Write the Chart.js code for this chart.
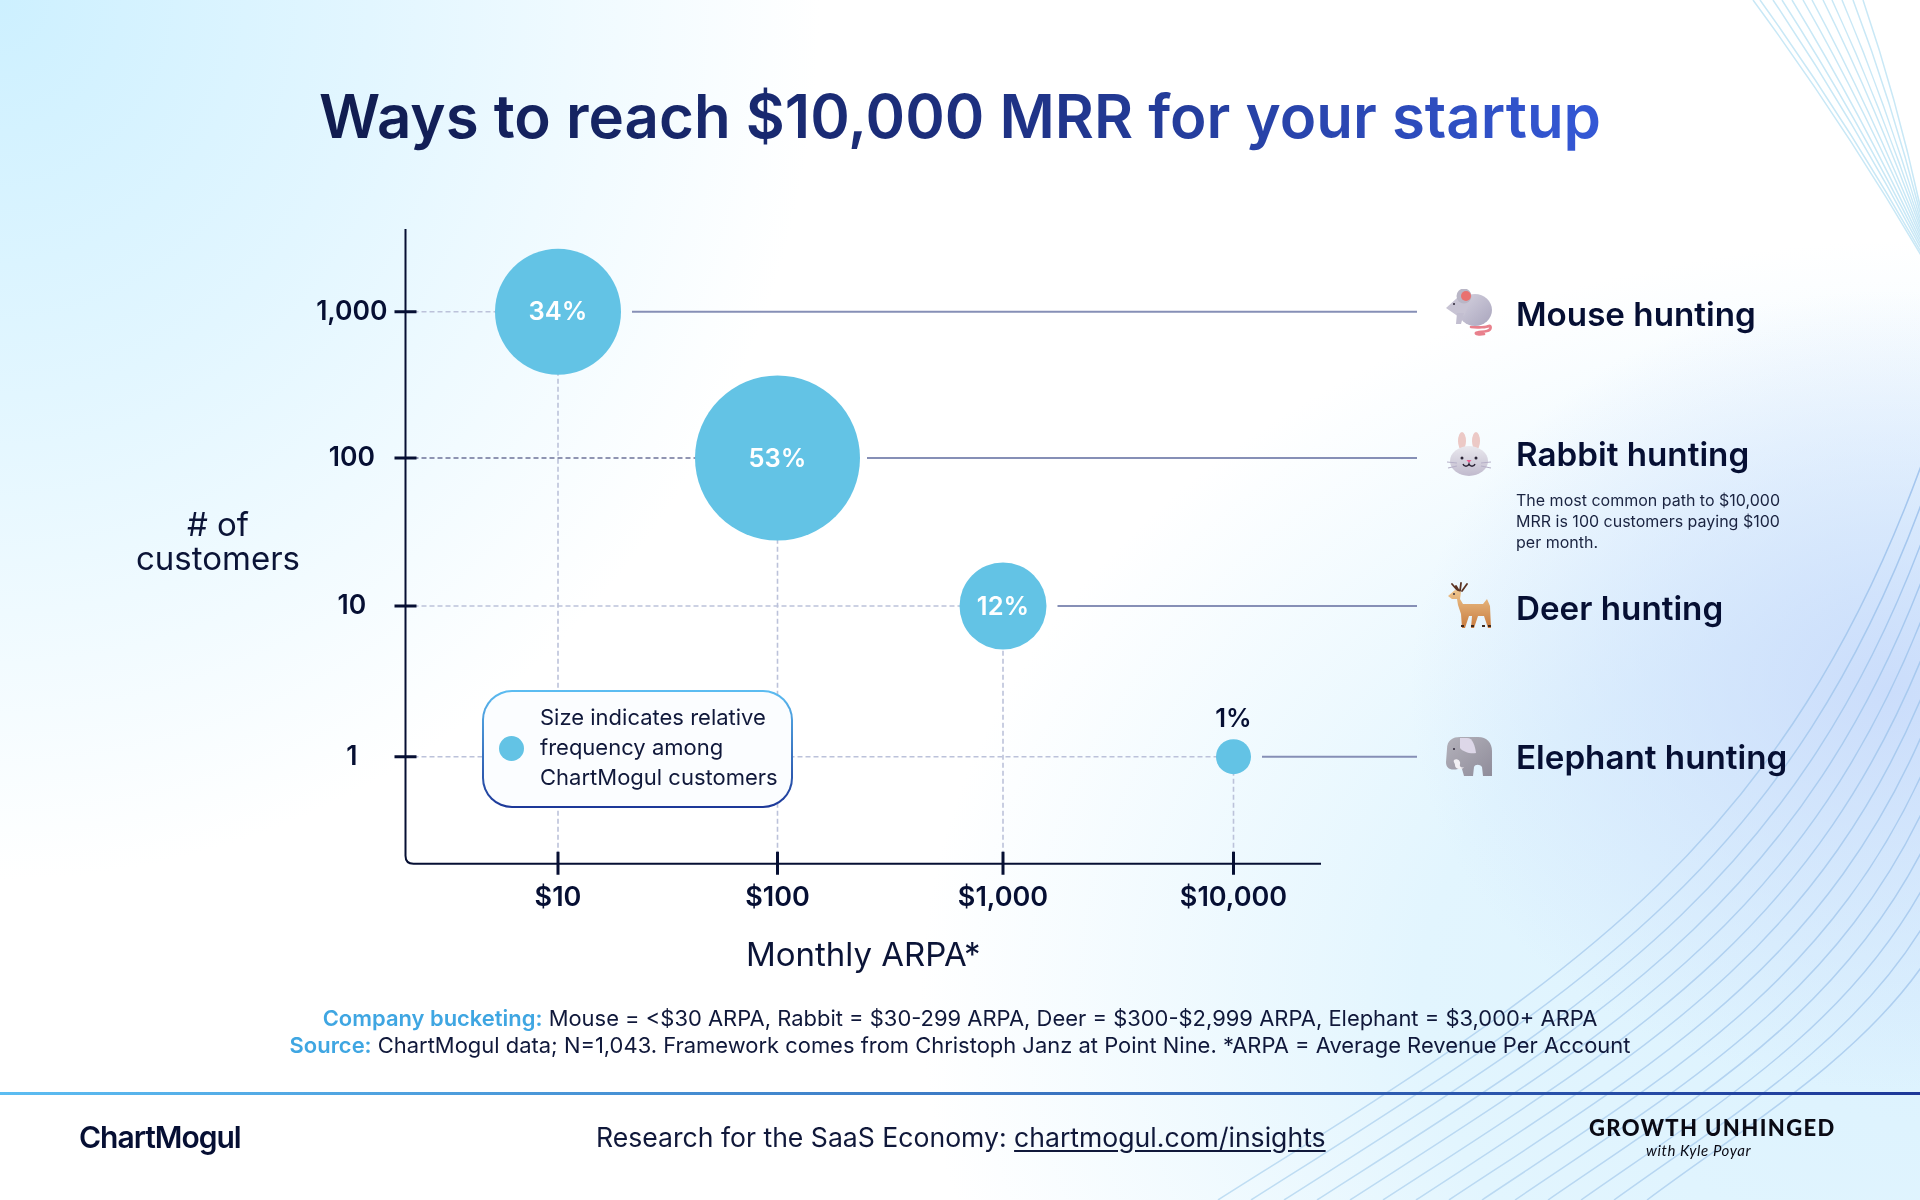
<!DOCTYPE html>
<html>
<head>
<meta charset="utf-8">
<title>Ways to reach $10,000 MRR for your startup</title>
<script src="https://cdn.jsdelivr.net/npm/chart.js@4"></script>
<style>
  html, body { margin: 0; padding: 0; }
  body {
    position: relative; width: 1920px; height: 1200px; overflow: hidden;
    font-family: Inter, sans-serif; color: #0b1437; background: #fff;
  }
  #bg {
    position: absolute; inset: 0;
    background:
      radial-gradient(ellipse 480px 400px at 1890px 690px, #cbddfb 0%, rgba(203,221,251,0) 100%),
      radial-gradient(ellipse 1000px 760px at 1920px 1000px, #dcf2fe 0%, #e2f5fe 50%, rgba(226,245,254,0) 100%),
      radial-gradient(ellipse 820px 880px at 0 0, #cdf0ff 0%, #e2f6ff 45%, rgba(255,255,255,0) 100%);
  }
  #deco, canvas, .t, .icon { position: absolute; }
  #deco { left: 0; top: 0; }
  canvas { left: 0; top: 0; }
  .t { white-space: nowrap; line-height: 1; }
  #title {
    left: 319px; top: 86px; font-size: 60px; font-weight: 600;
    background: linear-gradient(90deg, #101c4f 0%, #1d2f7e 50%, #3458d6 100%);
    -webkit-background-clip: text; background-clip: text; color: transparent; padding-bottom: 14px;
  }
  .hunt { left: 1516px; font-size: 33.2px; font-weight: 600; color: #060f33; }
  #note { left: 1516px; top: 490px; font-size: 16px; line-height: 21px; color: #1a2340; }
  #ytitle { left: 118px; width: 200px; top: 507px; font-size: 33px; line-height: 34px; text-align: center; font-weight: 400; color: #0b1437; }
  #legend {
    position: absolute; left: 482px; top: 690px; width: 311px; height: 118px; box-sizing: border-box;
    border: 2px solid transparent; border-radius: 30px;
    background: linear-gradient(#fbfdff, #fbfdff) padding-box, linear-gradient(180deg, #5cbdf2, #1c3798) border-box;
  }
  #legend i { position: absolute; left: 15px; top: 44px; width: 25px; height: 25px; border-radius: 50%; background: #63c3e5; }
  #legend div { position: absolute; left: 56px; top: 10px; font-size: 22px; line-height: 30px; white-space: nowrap; color: #10183a; }
  .foot { left: 0; width: 1920px; text-align: center; font-size: 21.95px; color: #10183a; }
  .foot b { color: #3fa6e2; font-weight: 600; }
  #rule { position: absolute; left: 0; top: 1092px; width: 1920px; height: 3px; background: linear-gradient(90deg, #5cbdf2, #1c3798); }
  #logo { left: 79px; top: 1122px; font-size: 30px; font-weight: 600; letter-spacing: -1px; color: #060f33; }
  #insights { left: 596px; top: 1124px; font-size: 26.6px; color: #10183a; }
  #insights u { text-underline-offset: 3px; }
  #gu { left: 1589px; top: 1117px; font-size: 22px; font-family: Lato, sans-serif; font-weight: 900; letter-spacing: 1.4px; color: #0a0a14; }
  #kyle { left: 1646px; top: 1143px; font-size: 15px; font-family: Lato, sans-serif; font-style: italic; letter-spacing: 0.6px; color: #0a0a14; }
</style>
</head>
<body>
<div id="bg"></div>
<svg id="deco" width="1920" height="1200" fill="none">
  <defs>
    <linearGradient id="curveInk" gradientUnits="userSpaceOnUse" x1="1218" y1="1200" x2="1920" y2="500">
      <stop offset="0" stop-color="#c0def3"/><stop offset="1" stop-color="#a4c6ee"/>
    </linearGradient>
  </defs>
</svg>
<canvas id="mrrChart" width="1920" height="1200"></canvas>

<div class="t" id="title">Ways to reach $10,000 MRR for your startup</div>
<div class="t" id="ytitle">
  # of<br>customers
</div>

<div class="t hunt" style="top:298px">Mouse hunting</div>
<div class="t hunt" style="top:438px">Rabbit hunting</div>
<div class="t" id="note">The most common path to $10,000<br>MRR is 100 customers paying $100<br>per month.</div>
<div class="t hunt" style="top:592px">Deer hunting</div>
<div class="t hunt" style="top:741px">Elephant hunting</div>

<!-- mouse -->
<svg class="icon" style="left:1446px;top:289px" width="47" height="47" viewBox="0 0 47 47">
  <defs><linearGradient id="fur" x1="0" y1="0" x2="1" y2="1"><stop offset="0" stop-color="#d6d3e0"/><stop offset="1" stop-color="#a9a5bd"/></linearGradient></defs>
  <path d="M25 38c7 1 16 0 18-1s3 4-2 5-10 1-11 2 3 2 8 1" stroke="#e8808c" stroke-width="2.6" fill="none" stroke-linecap="round"/>
  <ellipse cx="29" cy="21" rx="17" ry="16" fill="url(#fur)"/>
  <path d="M0 19l11-10 13 5-6 13-5 1z" fill="#c8c4d4"/>
  <path d="M11 24l7 0-3 11-5 0z" fill="#c2bed0"/>
  <circle cx="18" cy="7" r="7.5" fill="#b9b6c6"/>
  <circle cx="20" cy="7" r="5" fill="#e9716f"/>
  <circle cx="8" cy="15" r="1" fill="#2b2436"/>
</svg>
<!-- rabbit -->
<svg class="icon" style="left:1447px;top:431px" width="46" height="46" viewBox="0 0 46 46">
  <defs><linearGradient id="head" x1="0" y1="0" x2="0" y2="1"><stop offset="0" stop-color="#e9e8ee"/><stop offset="1" stop-color="#c0bacd"/></linearGradient></defs>
  <ellipse cx="15" cy="10" rx="4" ry="9" fill="#ecc9c6"/>
  <ellipse cx="29" cy="10" rx="4" ry="9" fill="#ecc9c6"/>
  <ellipse cx="22" cy="30" rx="19" ry="15" fill="url(#head)"/>
  <circle cx="15" cy="27" r="1.5" fill="#2b2436"/><circle cx="29" cy="27" r="1.5" fill="#2b2436"/>
  <path d="M19.5 29h5l-2.5 3z" fill="#ec5f92"/>
  <path d="M16 33c1 3 5 3 6 0 1 3 5 3 6 0" stroke="#2b2436" stroke-width="1.4" fill="none"/>
  <path d="M0 31l10 1M1 37l9-2M44 31l-10 1M44 37l-10-2" stroke="#b6b0c8" stroke-width="1.2"/>
</svg>
<!-- deer -->
<svg class="icon" style="left:1447px;top:582px" width="47" height="47" viewBox="0 0 47 47">
  <defs><linearGradient id="hide" x1="0" y1="0" x2="0" y2="1"><stop offset="0" stop-color="#eec58d"/><stop offset="1" stop-color="#c87b3f"/></linearGradient></defs>
  <path d="M9 4l3 5M14 1l-1 8M20 2l-5 7M5 2l6 7" stroke="#5b3322" stroke-width="1.8" stroke-linecap="round"/>
  <path d="M1 14l7-6 6 2-1 7 3 5 20 0 4-5 3 7 1 22-3 0-4-12-6 0-4 12-3 0 1-12-3 0-4 12-3 0-1-14-3-9-1-6-5 0z" fill="url(#hide)"/>
  <path d="M14 44h3M35 44h3M41 44h3M24 44h3" stroke="#3f2a20" stroke-width="2"/>
  <circle cx="7" cy="12" r="0.9" fill="#2b2436"/>
</svg>
<!-- elephant -->
<svg class="icon" style="left:1446px;top:737px" width="47" height="40" viewBox="0 0 47 40">
  <defs><linearGradient id="hidegrey" x1="0" y1="0" x2="1" y2="1"><stop offset="0" stop-color="#b4b2bb"/><stop offset="1" stop-color="#8f8c9a"/></linearGradient></defs>
  <path d="M1 12C1 3 7 0 14 0h18c9 0 14 6 14 14v25h-9l-1-9c-2-3-7-3-8 0l-1 9h-9l-2-7-4 0c-8 2-12-1-12-7z" fill="url(#hidegrey)"/>
  <path d="M14 1h7c6 0 8 8 9 15-6 1-13-1-16-5z" fill="#ddd7e8"/>
  <path d="M8 23c3-2 7 1 6 4s2 4 4 3c-3 4-9 2-9-2 0-2-2-3-1-5z" fill="#f2f0f4"/>
  <circle cx="8" cy="12" r="1" fill="#2b2436"/>
</svg>

<div id="legend">
  <i></i>
  <div>Size indicates relative<br>frequency among<br>ChartMogul customers</div>
</div>

<div class="t foot" style="top:1008px"><b>Company bucketing:</b> Mouse = &lt;$30 ARPA, Rabbit = $30-299 ARPA, Deer = $300-$2,999 ARPA, Elephant = $3,000+ ARPA</div>
<div class="t foot" style="top:1035px"><b>Source:</b> ChartMogul data; N=1,043. Framework comes from Christoph Janz at Point Nine. *ARPA = Average Revenue Per Account</div>
<div id="rule"></div>
<div class="t" id="logo">ChartMogul</div>
<div class="t" id="insights">Research for the SaaS Economy: <u>chartmogul.com/insights</u></div>
<div class="t" id="gu">GROWTH UNHINGED</div>
<div class="t" id="kyle">with Kyle Poyar</div>

<script>
const arpa = [10, 100, 1000, 10000];
const customers = [1000, 100, 10, 1];
const shares = [34, 53, 12, 1];

const arpaTicks = [10, 100, 1000, 10000];
const arpaTickLabels = ["$10", "$100", "$1,000", "$10,000"];
const customerTicks = [1, 10, 100, 1000];
const customerTickLabels = ["1", "10", "100", "1,000"];

// bubble radius for each share, in px
const radiusByShare = { 34: 63, 53: 82.5, 12: 43.5, 1: 17.5 };

const ink = "#060f33";
const bubbleColor = "#63c3e5";

// background line work, top right fan and bottom right curves
function drawDeco() {
  const svg = document.getElementById("deco");
  const add = (d, color) => {
    const p = document.createElementNS("http://www.w3.org/2000/svg", "path");
    p.setAttribute("d", d);
    p.setAttribute("stroke", color);
    p.setAttribute("stroke-width", "1.5");
    svg.appendChild(p);
  };
  [1753, 1760, 1773, 1782, 1792, 1803, 1812, 1823, 1832, 1842, 1853, 1863].forEach((x, i) => {
    const endY = 262 - i * 3;
    add(`M${x} 0 Q${(x + 1925) / 2 + 6} ${endY / 2 - 6} 1925 ${endY}`, "#c9e8f6");
  });
  for (let i = 0; i < 14; i++) {
    add(`M${1218 + i * 33} 1200 C${1550 + i * 14.6} ${990 + i * 10.8} ${1780 + i * 6} ${860 + i * 15.4} 1925 ${455 + i * 39}`, "url(#curveInk)");
  }
}

// log scale where each decade gets its own share of the axis length
class DecadeLogScale extends Chart.LogarithmicScale {
  static id = "decadeLog";
  static defaults = Chart.LogarithmicScale.defaults;

  getPixelForValue(value) {
    const breaks = this.options.breaks;
    const widths = this.options.widths;
    const total = widths.reduce((a, b) => a + b, 0);
    let run = 0;
    for (let i = 0; i < widths.length; i++) {
      if (value <= breaks[i + 1] || i === widths.length - 1) {
        const lo = Math.log10(breaks[i]);
        const hi = Math.log10(breaks[i + 1]);
        return this.getPixelForDecimal((run + widths[i] * (Math.log10(value) - lo) / (hi - lo)) / total);
      }
      run += widths[i];
    }
  }
}
Chart.register(DecadeLogScale);

const bubblePoints = arpa.map((x, i) => ({ x: x, y: customers[i], r: radiusByShare[shares[i]], share: shares[i] }));

const xMin = 2;
const yMin = 0.2;

function guide(data, color) {
  return {
    type: "line",
    data: data,
    borderColor: color,
    borderWidth: 1.6,
    borderDash: [5, 3],
    pointRadius: 0,
    order: 2,
  };
}

const hGuides = arpa.map((x, i) =>
  guide([{ x: xMin, y: customers[i] }, { x: x, y: customers[i] }], customers[i] === 100 ? "#6d7399" : "#bcc2da"));
const vGuides = arpa.map((x, i) =>
  guide([{ x: x, y: yMin }, { x: x, y: customers[i] }], "#bcc2da"));

// rounded axis frame and ticks that cross the axis
const axisFrame = {
  id: "axisFrame",
  afterDatasetsDraw(chart) {
    const { ctx, chartArea: { left, top, right, bottom }, scales: { x, y } } = chart;
    ctx.save();
    ctx.strokeStyle = ink;
    ctx.lineWidth = 2;
    ctx.beginPath();
    ctx.moveTo(left, top);
    ctx.lineTo(left, bottom - 8);
    ctx.quadraticCurveTo(left, bottom, left + 8, bottom);
    ctx.lineTo(right, bottom);
    ctx.stroke();
    ctx.lineWidth = 3;
    ctx.beginPath();
    x.ticks.forEach((t) => {
      const px = x.getPixelForValue(t.value);
      ctx.moveTo(px, bottom - 12);
      ctx.lineTo(px, bottom + 11);
    });
    y.ticks.forEach((t) => {
      const py = y.getPixelForValue(t.value);
      ctx.moveTo(left - 11, py);
      ctx.lineTo(left + 11, py);
    });
    ctx.stroke();
    ctx.restore();
  },
};

// solid lines out to the segment names, plus the share labels
const bubbleExtras = {
  id: "bubbleExtras",
  afterDatasetsDraw(chart) {
    const { ctx } = chart;
    const meta = chart.getDatasetMeta(chart.data.datasets.length - 1);
    ctx.save();
    meta.data.forEach((el, i) => {
      const r = el.options.radius;
      ctx.strokeStyle = "#868fb6";
      ctx.lineWidth = 2;
      ctx.beginPath();
      ctx.moveTo(el.x + r + (r > 80 ? 7 : 11), el.y);
      ctx.lineTo(1417, el.y);
      ctx.stroke();

      const small = shares[i] < 5;
      ctx.font = "600 25.5px Inter";
      ctx.textAlign = "center";
      ctx.textBaseline = "middle";
      ctx.fillStyle = small ? ink : "#fff";
      ctx.fillText(shares[i] + "%", el.x, small ? el.y - r - 20 : el.y + 1);
    });
    ctx.restore();
  },
};

function generateChart() {
  const ctx = document.getElementById("mrrChart").getContext("2d");
  return new Chart(ctx, {
    data: {
      datasets: [
        ...hGuides,
        ...vGuides,
        {
          type: "bubble",
          data: bubblePoints,
          backgroundColor: bubbleColor,
          borderWidth: 0,
          order: 1,
        },
      ],
    },
    options: {
      responsive: false,
      animation: false,
      devicePixelRatio: 1,
      layout: { padding: { left: 305.5, right: 599, top: 229, bottom: 211.3 } },
      plugins: { legend: { display: false }, tooltip: { enabled: false } },
      scales: {
        x: {
          type: "decadeLog",
          min: xMin,
          max: 25000,
          breaks: [xMin, 10, 100, 1000, 10000, 25000],
          widths: [152.5, 219.5, 225.5, 230.5, 87.5],
          grid: { display: false, drawTicks: false },
          border: { display: false },
          afterBuildTicks: (s) => { s.ticks = arpaTicks.map((v) => ({ value: v })); },
          afterFit: (s) => { s.height = 125; },
          ticks: {
            autoSkip: false,
            maxRotation: 0,
            padding: 18,
            color: ink,
            font: { family: "Inter", size: 27, weight: 600 },
            callback: (v) => arpaTickLabels[arpaTicks.indexOf(v)],
          },
          title: {
            display: true,
            text: "Monthly ARPA*",
            color: "#0b1437",
            font: { family: "Inter", size: 33, weight: 400 },
            padding: 13,
          },
        },
        y: {
          type: "decadeLog",
          min: yMin,
          max: 4000,
          breaks: [yMin, 1, 10, 100, 1000, 4000],
          widths: [107, 150.7, 148, 146.3, 82.7],
          grid: { display: false, drawTicks: false },
          border: { display: false },
          afterBuildTicks: (s) => { s.ticks = customerTicks.map((v) => ({ value: v })); },
          afterFit: (s) => { s.width = 100; },
          ticks: {
            autoSkip: false,
            crossAlign: "center",
            padding: 18,
            color: ink,
            font: { family: "Inter", size: 26.5, weight: 600 },
            callback: (v) => customerTickLabels[customerTicks.indexOf(v)],
          },
        },
      },
    },
    plugins: [axisFrame, bubbleExtras],
  });
}

drawDeco();
generateChart();
</script>
</body>
</html>
